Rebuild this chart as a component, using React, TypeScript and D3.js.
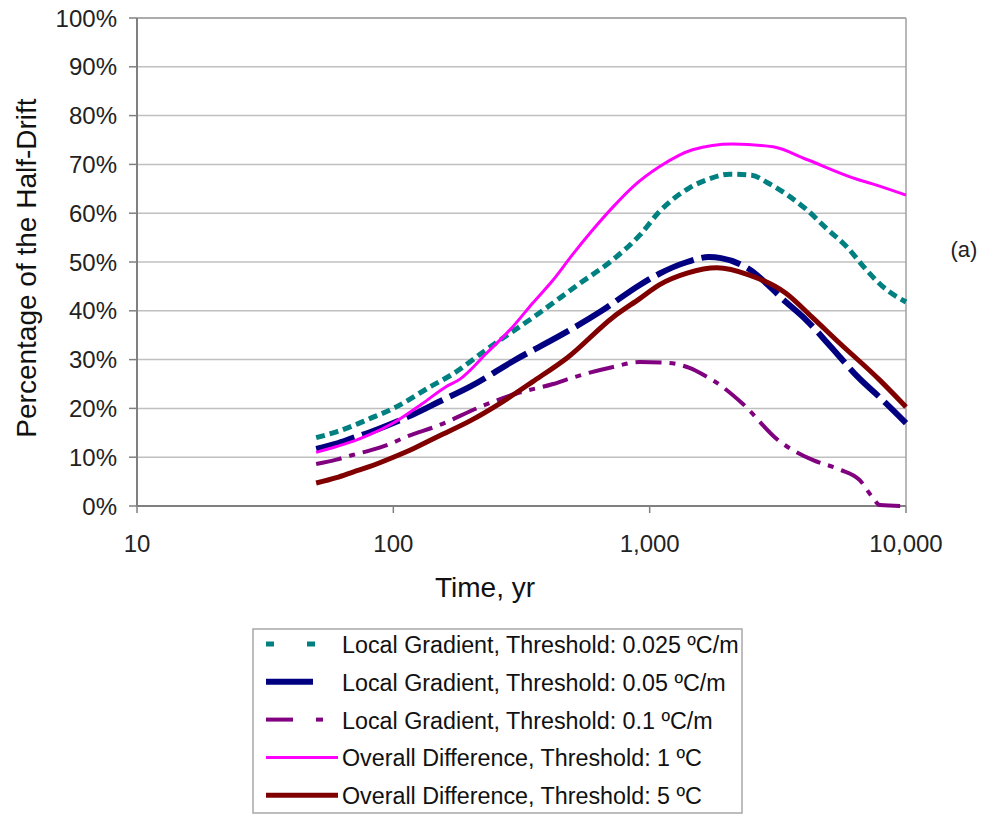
import React from "react";
import * as d3 from "d3";

const xTicks = [10, 100, 1000, 10000];
const xTickLabels = ["10", "100", "1,000", "10,000"];
const yTicks = [0, 10, 20, 30, 40, 50, 60, 70, 80, 90, 100];

const tealT = [50, 60, 70, 80, 100, 140, 170, 230, 370, 530, 720, 915, 1090, 1430, 1700, 2050, 2500, 2870, 3500, 4100, 4870, 5900, 7000, 8100, 10000];
const tealV = [14, 15.2, 16.5, 17.8, 20, 24.5, 27, 32, 39.5, 45.5, 50.5, 55.5, 60.3, 65.2, 67, 68, 67.8, 66.3, 63.5, 60.7, 57, 53, 48.4, 45, 41.8];

const navyT = [50, 60, 70, 80, 100, 120, 150, 200, 300, 450, 650, 915, 1090, 1400, 1700, 1900, 2400, 3400, 4100, 5100, 6500, 8000, 10000];
const navyV = [11.7, 12.8, 14, 15, 17, 18.8, 21.3, 24.5, 30, 35, 40, 45.3, 47.6, 50, 51, 50.8, 48.8, 41.8, 38, 32.6, 26.4, 22, 17];

const purpleT = [50, 60, 70, 80, 100, 110, 150, 218, 300, 420, 500, 720, 915, 1190, 1430, 1670, 1760, 2300, 3170, 4340, 5500, 6600, 7400, 7900, 10000];
const purpleV = [8.6, 9.5, 10.5, 11.3, 13, 14, 16.5, 20.3, 23, 25, 26.3, 28.5, 29.5, 29.3, 28.3, 26.5, 25.8, 21, 13.5, 9.4, 7.5, 5.3, 1.8, 0.2, 0];

const pinkT = [50, 60, 70, 80, 100, 130, 160, 182, 232, 292, 350, 420, 500, 600, 720, 860, 1090, 1470, 2100, 3030, 4100, 6400, 7400, 10000];
const pinkV = [11, 12.2, 13.3, 14.5, 17, 21, 24.4, 26, 31.4, 36.7, 41.6, 46.3, 51.5, 56.6, 61.3, 65.4, 69.5, 73, 74.2, 73.6, 71, 67, 66, 63.7];

const brownT = [50, 60, 70, 80, 100, 120, 150, 200, 260, 350, 480, 720, 915, 1090, 1400, 1830, 2450, 3400, 4300, 5500, 7900, 10000];
const brownV = [4.7, 5.8, 7, 8, 10, 11.8, 14.3, 17.5, 21, 25.5, 30.5, 38.7, 42.5, 45.3, 47.7, 48.8, 47.3, 43.6, 38.7, 33.4, 25.8, 20.3];

const seriesNames = [
  "Local Gradient, Threshold: 0.025 ºC/m",
  "Local Gradient, Threshold: 0.05 ºC/m",
  "Local Gradient, Threshold: 0.1 ºC/m",
  "Overall Difference, Threshold: 1 ºC",
  "Overall Difference, Threshold: 5 ºC",
];

const series = [
  { name: seriesNames[0], t: tealT, v: tealV, color: "#008080", width: 5, dash: "9 5", legendSegs: [[266, 274], [307, 315]] },
  { name: seriesNames[1], t: navyT, v: navyV, color: "#000080", width: 6, dash: "40 8", legendSegs: [[266, 313]] },
  { name: seriesNames[2], t: purpleT, v: purpleV, color: "#800080", width: 4, dash: "26 8 6 8", legendSegs: [[266, 293], [316, 323]] },
  { name: seriesNames[3], t: pinkT, v: pinkV, color: "#FF00FF", width: 3, dash: null, legendSegs: [[266, 338]] },
  { name: seriesNames[4], t: brownT, v: brownV, color: "#800000", width: 5, dash: null, legendSegs: [[266, 338]] },
];

const FONT = "'Liberation Sans', Arial, sans-serif";

export default function App() {
  const L = 137, R = 906, T = 18, B = 506;
  const x = d3.scaleLog().domain([10, 10000]).range([L, R]);
  const y = d3.scaleLinear().domain([0, 100]).range([B, T]);
  const line = d3
    .line<[number, number]>()
    .x((d) => x(d[0]))
    .y((d) => y(d[1]))
    .curve(d3.curveMonotoneX);

  const legX = 253, legY = 629, legW = 489, legH = 184;
  const rowY = (i: number) => 645 + i * 37.8;

  return (
    <div style={{ position: "absolute", left: 0, top: 0 }}>
      <svg width={987} height={815} style={{ display: "block", background: "#fff" }} fontFamily={FONT}>
        {yTicks.map((t) => (
          <line key={"g" + t} x1={L} x2={R} y1={y(t)} y2={y(t)} stroke="#c0c0c0" strokeWidth={1.5} />
        ))}
        <line x1={R} x2={R} y1={T} y2={B} stroke="#a0a0a0" strokeWidth={1.5} />
        <line x1={L} x2={R} y1={T} y2={T} stroke="#a0a0a0" strokeWidth={1.5} />
        <line x1={L} x2={L} y1={T} y2={B} stroke="#808080" strokeWidth={2} />
        <line x1={L} x2={R} y1={B} y2={B} stroke="#808080" strokeWidth={2} />
        {yTicks.map((t) => (
          <g key={"yt" + t}>
            <line x1={L - 8} x2={L} y1={y(t)} y2={y(t)} stroke="#808080" strokeWidth={1.5} />
            <text x={117} y={y(t)} dy="0.36em" textAnchor="end" fontSize={24} fill="#222">
              {t + "%"}
            </text>
          </g>
        ))}
        {xTicks.map((t, i) => (
          <g key={"xt" + t}>
            <line x1={x(t)} x2={x(t)} y1={B} y2={B + 7} stroke="#808080" strokeWidth={1.5} />
            <text x={x(t)} y={552} textAnchor="middle" fontSize={24} fill="#222">
              {xTickLabels[i]}
            </text>
          </g>
        ))}
        {series.map((s) => (
          <path
            key={s.name}
            d={line(s.t.map((t, i) => [t, s.v[i]] as [number, number])) || ""}
            fill="none"
            stroke={s.color}
            strokeWidth={s.width}
            strokeDasharray={s.dash || undefined}
            strokeLinejoin="round"
          />
        ))}
        <text x={485} y={597} textAnchor="middle" fontSize={28} fill="#111">
          Time, yr
        </text>
        <text transform={`translate(36, 268) rotate(-90)`} textAnchor="middle" fontSize={28} fill="#111">
          Percentage of the Half-Drift
        </text>
        <text x={964} y={257} textAnchor="middle" fontSize={22} fill="#222">
          (a)
        </text>
        <rect x={legX} y={legY} width={legW} height={legH} fill="#fff" stroke="#a8a8a8" strokeWidth={1.5} />
        {series.map((s, i) => (
          <g key={"lg" + i}>
            {s.legendSegs.map((seg, j) => (
              <line
                key={j}
                x1={seg[0]}
                x2={seg[1]}
                y1={rowY(i) - 1}
                y2={rowY(i) - 1}
                stroke={s.color}
                strokeWidth={s.width}
              />
            ))}
            <text x={342} y={rowY(i) + 8} fontSize={23.3} fill="#111">
              {s.name}
            </text>
          </g>
        ))}
      </svg>
    </div>
  );
}
